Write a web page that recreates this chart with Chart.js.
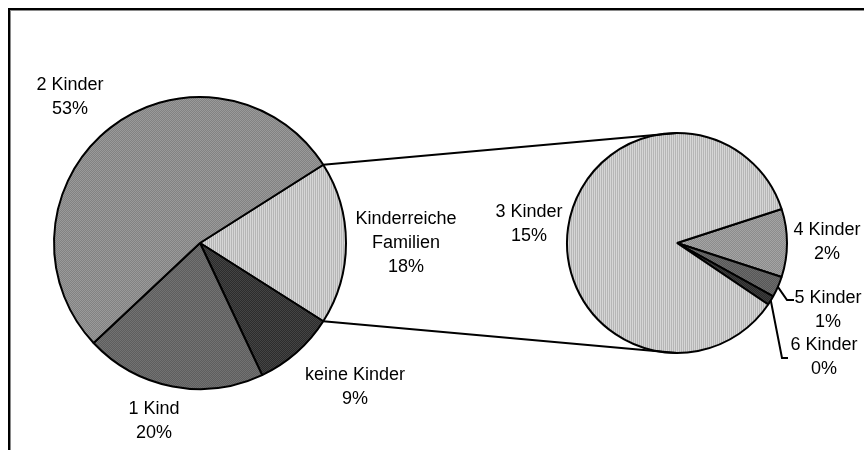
<!DOCTYPE html>
<html>
<head>
<meta charset="utf-8">
<script src="https://cdn.jsdelivr.net/npm/chart.js@4.4.0/dist/chart.umd.min.js"></script>
<style>
  body { margin: 0; background: #fff; }
  #wrap { position: relative; width: 864px; height: 450px; }
  canvas { position: absolute; left: 0; top: 0; }
</style>
</head>
<body>
<div id="wrap">
  <canvas id="mainPie" width="864" height="450"></canvas>
  <canvas id="subPie" width="864" height="450"></canvas>
</div>
<script>
// Hauptkreis: Familien nach Kinderzahl (Anteile in %)
const mainLabels = [['Kinderreiche', 'Familien'], 'keine Kinder', '1 Kind', '2 Kinder'];
const mainValues = [18, 9, 20, 53];

// Zweiter Kreis: Aufteilung der kinderreichen Familien
const subLabels = ['4 Kinder', '5 Kinder', '6 Kinder', '3 Kinder'];
const subValues = [1.8, 0.55, 0.25, 15.4];

// where the data labels sit (first baseline, centered)
const mainLabelPos = [[406, 224], [355, 380], [154, 414], [70, 90]];
const subLabelPos = [[827, 235], [828, 303], [824, 350], [529, 217]];
// leader line elbows for the tiny slices
const leaderElbow = { 1: [[787, 300], [794, 300]], 2: [[782, 358], [788, 358]] };

const FONT = '18px "Liberation Sans", Arial, sans-serif';
const LINE_H = 24;

// small greyscale textures like the old Excel fills
function makePattern(kind, a, b) {
  const tile = document.createElement('canvas');
  tile.width = 2; tile.height = 2;
  const t = tile.getContext('2d');
  t.fillStyle = a; t.fillRect(0, 0, 2, 2);
  t.fillStyle = b;
  if (kind === 'stripes') {
    t.fillRect(1, 0, 1, 2);
  } else {
    t.fillRect(1, 0, 1, 1);
    t.fillRect(0, 1, 1, 1);
  }
  return t.createPattern(tile, 'repeat');
}

const mainColors = [
  makePattern('stripes', '#d6d6d6', '#b6b6b6'),
  makePattern('dots', '#444444', '#2c2c2c'),
  makePattern('dots', '#727272', '#5e5e5e'),
  makePattern('dots', '#9a9a9a', '#828282')
];
const subColors = [
  makePattern('dots', '#a4a4a4', '#8c8c8c'),
  makePattern('dots', '#6c6c6c', '#585858'),
  makePattern('dots', '#3e3e3e', '#2a2a2a'),
  makePattern('stripes', '#d6d6d6', '#b6b6b6')
];

function pct(v) {
  return Math.round(v) + '%';
}

function drawLabel(ctx, label, value, pos) {
  const lines = (Array.isArray(label) ? label : [label]).concat(pct(value));
  ctx.fillStyle = '#000';
  ctx.font = FONT;
  ctx.textAlign = 'center';
  ctx.textBaseline = 'alphabetic';
  lines.forEach((l, i) => ctx.fillText(l, pos[0], pos[1] + i * LINE_H));
}

const framePlugin = {
  id: 'frame',
  beforeDraw(chart) {
    const ctx = chart.ctx;
    ctx.save();
    ctx.fillStyle = '#000';
    ctx.fillRect(8, 8, 856, 2);
    ctx.fillRect(8, 8, 2, 442);
    ctx.fillStyle = '#8a8a8a';
    ctx.fillRect(10, 10, 854, 1);
    ctx.fillRect(10, 10, 1, 440);
    ctx.restore();
  },
  afterDraw(chart) {
    const ctx = chart.ctx;
    const arcs = chart.getDatasetMeta(0).data;
    ctx.save();
    arcs.forEach((arc, i) => drawLabel(ctx, mainLabels[i], mainValues[i], mainLabelPos[i]));
    ctx.restore();
  }
};

const mainTotal = mainValues.reduce((a, b) => a + b, 0);
const mainChart = new Chart(document.getElementById('mainPie'), {
  type: 'pie',
  data: {
    labels: mainLabels,
    datasets: [{
      data: mainValues,
      backgroundColor: mainColors,
      borderColor: '#000',
      borderWidth: 2,
      radius: 146
    }]
  },
  options: {
    responsive: false,
    animation: false,
    rotation: 90 - mainValues[0] / mainTotal * 180,
    layout: { padding: { left: 0, right: 464, top: 36, bottom: 0 } },
    plugins: { legend: { display: false }, tooltip: { enabled: false } }
  },
  plugins: [framePlugin]
});

const subPlugin = {
  id: 'subDecor',
  afterDraw(chart) {
    const ctx = chart.ctx;
    const big = mainChart.getDatasetMeta(0).data[0];
    const arcs = chart.getDatasetMeta(0).data;
    const c = arcs[0];
    ctx.save();
    ctx.strokeStyle = '#000';
    ctx.lineWidth = 2;
    // connector lines between the two pies
    ctx.beginPath();
    ctx.moveTo(big.x + big.outerRadius * Math.cos(big.startAngle), big.y + big.outerRadius * Math.sin(big.startAngle));
    ctx.lineTo(c.x, c.y - c.outerRadius);
    ctx.moveTo(big.x + big.outerRadius * Math.cos(big.endAngle), big.y + big.outerRadius * Math.sin(big.endAngle));
    ctx.lineTo(c.x, c.y + c.outerRadius);
    ctx.stroke();
    // leader lines for the thin slices
    Object.keys(leaderElbow).forEach(k => {
      const a = arcs[k];
      const mid = (a.startAngle + a.endAngle) / 2;
      const pts = leaderElbow[k];
      ctx.beginPath();
      ctx.moveTo(a.x + a.outerRadius * Math.cos(mid), a.y + a.outerRadius * Math.sin(mid));
      pts.forEach(p => ctx.lineTo(p[0], p[1]));
      ctx.stroke();
    });
    arcs.forEach((arc, i) => drawLabel(ctx, subLabels[i], subValues[i], subLabelPos[i]));
    ctx.restore();
  }
};

const subTotal = subValues.reduce((a, b) => a + b, 0);
new Chart(document.getElementById('subPie'), {
  type: 'pie',
  data: {
    labels: subLabels,
    datasets: [{
      data: subValues,
      backgroundColor: subColors,
      borderColor: '#000',
      borderWidth: 2,
      radius: 110
    }]
  },
  options: {
    responsive: false,
    animation: false,
    rotation: 90 - subValues[0] / subTotal * 180,
    layout: { padding: { left: 490, right: 0, top: 36, bottom: 0 } },
    plugins: { legend: { display: false }, tooltip: { enabled: false } }
  },
  plugins: [subPlugin]
});
</script>
</body>
</html>
